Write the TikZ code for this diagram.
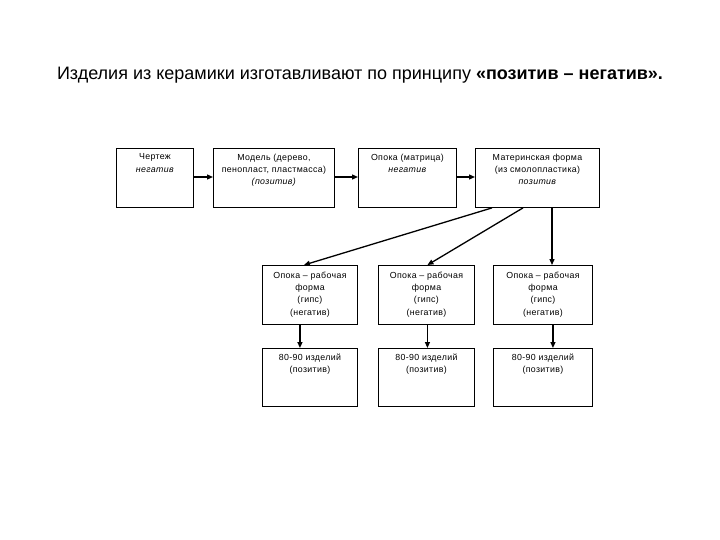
\documentclass[tikz,border=0pt]{standalone}
\usepackage{fontspec}
\setmainfont{Liberation Sans}
\newfontfamily\boxfont[LetterSpace=4]{Liberation Sans}
\usetikzlibrary{arrows.meta}
\tikzset{
  box/.style={draw, line width=0.9pt, inner sep=0pt, anchor=north west},
  txt/.style={anchor=north, align=center, font=\boxfont\fontsize{8.8}{12.3}\selectfont, inner sep=0pt},
  arr/.style={line width=1.3pt, -{Triangle[length=6pt,width=5pt]}},
}
\begin{document}
\begin{tikzpicture}[x=1pt,y=-1pt]
\useasboundingbox (0,0) rectangle (720,540);
\node[anchor=center, font=\fontsize{18}{21}\selectfont] (title) at (360,75) {Изделия из керамики изготавливают по принципу \textbf{«позитив – негатив».}};
% top row
\node[box, minimum width=77pt, minimum height=59pt] (b1) at (116,148) {};
\node[box, minimum width=121pt, minimum height=59pt] (b2) at (213,148) {};
\node[box, minimum width=98pt, minimum height=59pt] (b3) at (358,148) {};
\node[box, minimum width=124pt, minimum height=59pt] (b4) at (475,148) {};
\node[txt] (t1) at ([yshift=-5.5pt]b1.north) {Чертеж\\\textit{негатив}};
\node[txt] (t2) at ([yshift=-5.5pt]b2.north) {Модель (дерево,\\пенопласт, пластмасса)\\\textit{(позитив)}};
\node[txt] (t3) at ([yshift=-5.5pt]b3.north) {Опока (матрица)\\\textit{негатив}};
\node[txt] (t4) at ([yshift=-5.5pt]b4.north) {Материнская форма\\(из смолопластика)\\\textit{позитив}};
% second row
\node[box, minimum width=95pt, minimum height=59pt] (r2a) at (262,265) {};
\node[box, minimum width=96pt, minimum height=59pt] (r2b) at (378,265) {};
\node[box, minimum width=99pt, minimum height=59pt] (r2c) at (493,265) {};
\foreach \n in {r2a,r2b,r2c}
  \node[txt] (t\n) at ([yshift=-6.5pt]\n.north) {Опока – рабочая\\форма\\(гипс)\\(негатив)};
% third row
\node[box, minimum width=95pt, minimum height=58pt] (r3a) at (262,348) {};
\node[box, minimum width=96pt, minimum height=58pt] (r3b) at (378,348) {};
\node[box, minimum width=99pt, minimum height=58pt] (r3c) at (493,348) {};
\foreach \n in {r3a,r3b,r3c}
  \node[txt] (t\n) at ([yshift=-5.5pt]\n.north) {80-90 изделий\\(позитив)};
% arrows top row
\draw[arr] ([yshift=-29pt]b1.north east) -- ([yshift=-29pt]b2.north west);
\draw[arr] ([yshift=-29pt]b2.north east) -- ([yshift=-29pt]b3.north west);
\draw[arr] ([yshift=-29pt]b3.north east) -- ([yshift=-29pt]b4.north west);
% from b4 down
\draw[arr] ([xshift=17pt]b4.south west) -- ([xshift=-6pt]r2a.north);
\draw[arr] ([xshift=48pt]b4.south west) -- ([xshift=1pt]r2b.north);
\draw[arr] ([xshift=77pt]b4.south west) -- ([xshift=77pt-18pt]r2c.north west);
% row2 to row3
\draw[arr] ([xshift=-10pt]r2a.south) -- ([xshift=-10pt]r3a.north);
\draw[arr] ([xshift=1pt]r2b.south) -- ([xshift=1pt]r3b.north);
\draw[arr] ([xshift=10pt]r2c.south) -- ([xshift=10pt]r3c.north);
\end{tikzpicture}
\end{document}
